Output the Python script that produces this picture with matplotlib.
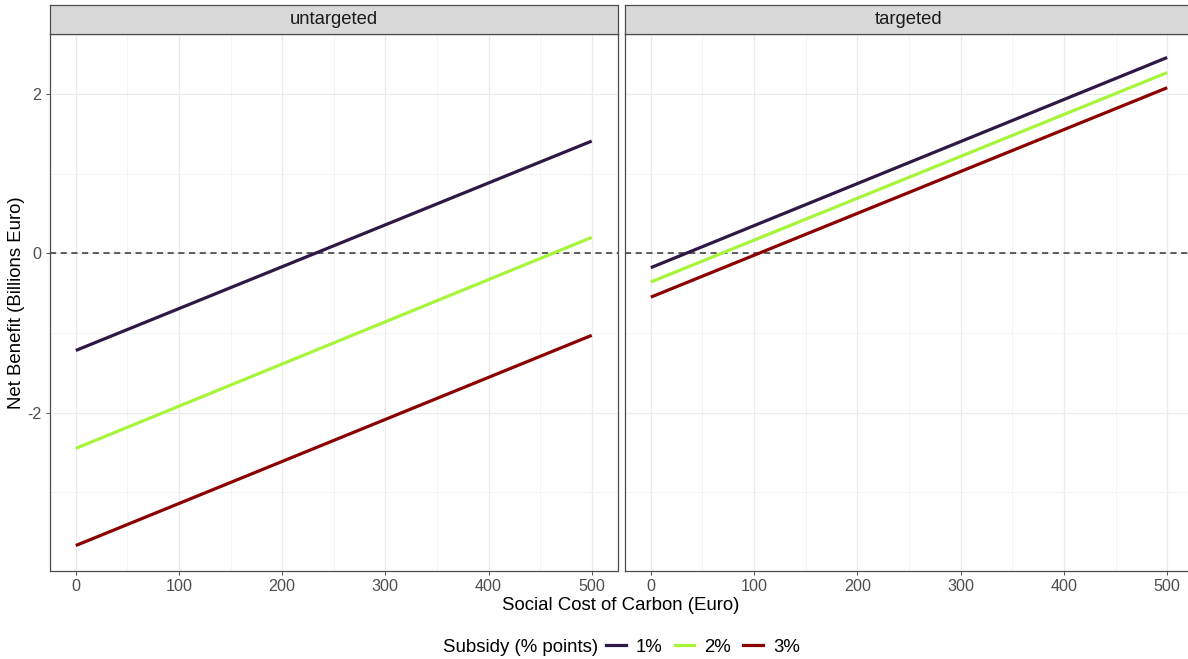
import matplotlib
matplotlib.use('Agg')
import matplotlib.pyplot as plt
from matplotlib.lines import Line2D

plt.rcParams.update({
    'font.family': ['Liberation Sans', 'DejaVu Sans'],
    'font.size': 11,
})

W, H = 1188, 659

# Data
scc = [0, 500]
panels = ['untargeted', 'targeted']
subsidy_labels = ['1%', '2%', '3%']
colors = ['#2E1844', '#A6F53A', '#8B0000']
untargeted = [
    [-1.22, 1.41],   # 1%
    [-2.45, 0.20],   # 2%
    [-3.67, -1.03],  # 3%
]
targeted = [
    [-0.18, 2.46],
    [-0.36, 2.27],
    [-0.55, 2.08],
]
values = {'untargeted': untargeted, 'targeted': targeted}

fig = plt.figure(figsize=(W / 100, H / 100), dpi=100)


def px_axes(x0, y0, x1, y1):
    return fig.add_axes([x0 / W, 1 - y1 / H, (x1 - x0) / W, (y1 - y0) / H])


BORDER = '#4D4D4D'
# the right panel runs past the image edge in the reference
panel_x = [(50, 617.5), (625, 1193)]

for i, name in enumerate(panels):
    x0, x1 = panel_x[i]
    ax = px_axes(x0, 34, x1, 571)
    ax.set_xlim(-25, 525)
    ax.set_ylim(-3.99, 2.755)
    ax.set_xticks([0, 100, 200, 300, 400, 500])
    ax.set_xticks([50, 150, 250, 350, 450], minor=True)
    ax.set_yticks([-2, 0, 2])
    ax.set_yticks([-3, -1, 1], minor=True)
    ax.grid(True, which='major', color='#EBEBEB', lw=0.9)
    ax.grid(True, which='minor', color='#F2F2F2', lw=0.6)
    ax.set_axisbelow(True)
    ax.tick_params(which='minor', length=0)
    ax.tick_params(which='major', length=3, color=BORDER, width=0.7,
                   labelsize=11.6, labelcolor='#4D4D4D', pad=3)
    if i == 0:
        ax.set_yticklabels(['-2', '0', '2'])
    else:
        ax.tick_params(axis='y', which='major', length=0, labelleft=False)
    for s in ax.spines.values():
        s.set_color(BORDER)
        s.set_linewidth(0.9)

    ax.axhline(0, color='#333333', lw=1.1, ls=(0, (4, 3)), zorder=2)
    for ys, c in zip(values[name], colors):
        ax.plot(scc, ys, color=c, lw=2.3, solid_capstyle='butt', zorder=3)

    # strip
    sx = px_axes(x0, 5, x1, 34)
    sx.set_facecolor('#D9D9D9')
    sx.set_xticks([])
    sx.set_yticks([])
    for s in sx.spines.values():
        s.set_color(BORDER)
        s.set_linewidth(0.9)
    sx.text(0.5, 0.5, name, ha='center', va='center', fontsize=13.3,
            color='#1A1A1A', transform=sx.transAxes)

fig.text(621 / W, 1 - 605 / H, 'Social Cost of Carbon (Euro)', ha='center',
         va='center', fontsize=13.4)
fig.text(17 / W, 1 - 303 / H, 'Net Benefit (Billions Euro)', ha='center',
         va='center', rotation=90, fontsize=13.4)

# legend
fig.text(598 / W, 1 - 647 / H, 'Subsidy (% points)', ha='right', va='center',
         fontsize=13.4)
handles = [Line2D([], [], color=c, lw=2.3) for c in colors]
fig.legend(handles, subsidy_labels, ncol=3, loc='center left',
           bbox_to_anchor=(606 / W, 1 - 647 / H), frameon=False, fontsize=13.4,
           handlelength=1.05, handletextpad=0.55, columnspacing=0.65,
           borderpad=0, borderaxespad=0)

fig.savefig('out.png', dpi=100)
